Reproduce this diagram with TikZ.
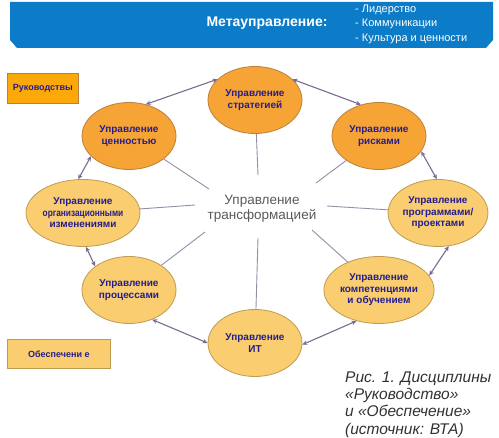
\documentclass[tikz,border=0pt]{standalone}
\usepackage{fontspec}
\setmainfont{Liberation Sans}
\usetikzlibrary{arrows.meta,shapes.geometric}
\definecolor{banner}{RGB}{12,124,200}
\definecolor{darkorange}{RGB}{247,164,54}
\definecolor{darkorangeline}{RGB}{185,128,60}
\definecolor{lightorange}{RGB}{249,205,112}
\definecolor{lightorangeline}{RGB}{190,155,80}
\definecolor{boxorange}{RGB}{251,168,10}
\definecolor{navytext}{RGB}{36,30,140}
\definecolor{arrowcol}{RGB}{123,107,143}
\definecolor{spokecol}{RGB}{150,142,165}
\definecolor{centertext}{RGB}{90,90,90}
\definecolor{captiontext}{RGB}{50,50,50}
\begin{document}
\begin{tikzpicture}[x=1pt,y=-1pt,
  disc/.style={ellipse, minimum width=94pt, minimum height=67pt, inner sep=0pt, line width=0.8pt,
    align=center, font=\fontsize{10}{11.5}\selectfont\bfseries, text=navytext},
  darkdisc/.style={disc, fill=darkorange, draw=darkorangeline},
  lightdisc/.style={disc, fill=lightorange, draw=lightorangeline},
  dbl/.style={{Stealth[length=5pt,width=4.5pt]}-{Stealth[length=5pt,width=4.5pt]}, draw=arrowcol, line width=1.1pt},
  spoke/.style={draw=spokecol, line width=0.9pt},
  labelbox/.style={anchor=north west, line width=0.7pt, inner sep=0pt, text=navytext,
    font=\fontsize{9}{11}\selectfont\bfseries},
]
\useasboundingbox (0,0) rectangle (499,438);
\fill[white] (0,0) rectangle (499,438);

% banner
\fill[banner] (10,2) -- (493,2) -- (493,40) -- (486,48) -- (17,48) -- (10,40) -- cycle;
\node[text=white, font=\fontsize{14}{16}\selectfont\bfseries] (meta) at (267,23) {Метауправление:};
\node[anchor=west, align=left, text=white, inner sep=0pt, font=\fontsize{11}{14.5}\selectfont] (list) at (355,24)
  {- Лидерство\\- Коммуникации\\- Культура и ценности};

% side boxes
\node[labelbox, fill=boxorange, draw=darkorangeline, minimum width=71pt, minimum height=30pt] (ruk) at (7,73) {Руководствы};
\node[labelbox, fill=lightorange, draw=lightorangeline, minimum width=103pt, minimum height=29pt] (obes) at (7,339) {Обеспечени е};

% ellipses
\node[darkdisc] (strat) at (255,100) {Управление\\стратегией};
\node[darkdisc] (val) at (129,136) {Управление\\ценностью};
\node[darkdisc] (risk) at (379,136) {Управление\\рисками};
\node[lightdisc] (org) at (83,213) {Управление\\\scalebox{0.83}[1]{организационными}\\изменениями};
\node[lightdisc] (prog) at (438,213) {Управление\\программами/\\проектами};
\node[lightdisc] (proc) at (129,290) {Управление\\процессами};
\node[lightdisc] (comp) at (379,290) {Управление\\компетенциями\\и обучением};
\node[lightdisc] (it) at (255,343) {Управление\\ИТ};

% center
\node[align=center, text=centertext, font=\fontsize{13.5}{15.5}\selectfont] (ctr) at (262,209)
  {Управление\\трансформацией};

% spokes
\coordinate (s1) at (258,175);
\coordinate (s2) at (209,189);
\coordinate (s3) at (316,183);
\coordinate (s4) at (195,205);
\coordinate (s5) at (327,206);
\coordinate (s6) at (205,232);
\coordinate (s7) at (312,230);
\coordinate (s8) at (258,238);
\draw[spoke] (strat) -- (s1);
\draw[spoke] (val) -- (s2);
\draw[spoke] (risk) -- (s3);
\draw[spoke] (org) -- (s4);
\draw[spoke] (prog) -- (s5);
\draw[spoke] (proc) -- (s6);
\draw[spoke] (comp) -- (s7);
\draw[spoke] (it) -- (s8);

% arrows
\draw[dbl] (val.62) -- (strat.151);
\draw[dbl] (strat.29) -- (risk.120);
\draw[dbl] (risk.-20) -- (prog.92);
\draw[dbl] (prog.-72) -- (comp.16);
\draw[dbl] (comp.234) -- (it.-2);
\draw[dbl] (it.180) -- (proc.-52);
\draw[dbl] (proc.145) -- (org.-85);
\draw[dbl] (org.98) -- (val.208);

% caption
\node[anchor=north west, align=left, inner sep=0pt, text=captiontext,
  font=\fontsize{15.5}{17.3}\selectfont\itshape] (cap) at (345,371.5)
  {Рис. 1. Дисциплины\\«Руководство»\\и «Обеспечение»\\(источник: ВТА)};
\end{tikzpicture}
\end{document}
